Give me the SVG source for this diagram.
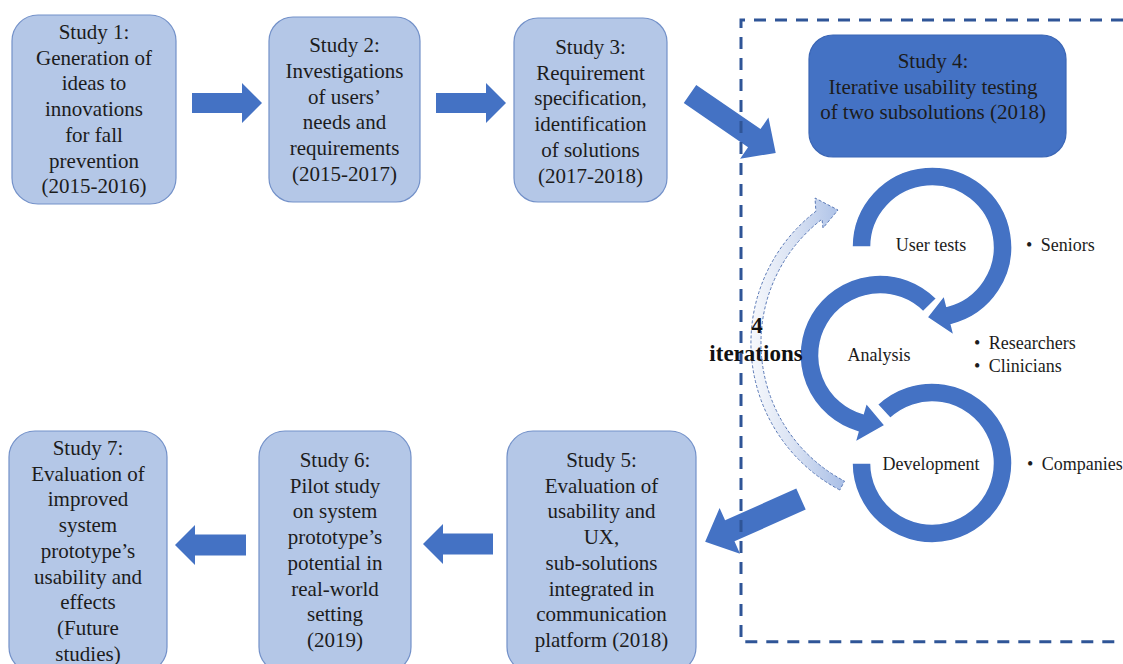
<svg xmlns="http://www.w3.org/2000/svg" width="1123" height="664" viewBox="0 0 1123 664">
<style>
.box{fill:#b4c7e7;stroke:#7391c9;stroke-width:1.2}
.box4{fill:#4472c4;stroke:#3b66b5;stroke-width:1.2}
.t{font-family:"Liberation Serif","Times New Roman",serif;font-size:21px;fill:#1c1c1c;text-anchor:middle}
.lbl{font-family:"Liberation Serif","Times New Roman",serif;font-size:18px;fill:#1c1c1c}
.mid{text-anchor:middle}
.bold{font-family:"Liberation Serif","Times New Roman",serif;font-size:23px;font-weight:bold;fill:#111;text-anchor:middle}
.blk{fill:#4472c4}
.ring{fill:#4472c4;stroke:#ffffff;stroke-width:1.5}
</style>
<defs>
<linearGradient id="gradIter" gradientUnits="userSpaceOnUse" x1="752" y1="0" x2="845" y2="0">
<stop offset="0" stop-color="#f6f8fc"/>
<stop offset="0.45" stop-color="#d9e2f3"/>
<stop offset="1" stop-color="#a8bee6"/>
</linearGradient>
</defs>
<rect width="1123" height="664" fill="#ffffff"/>

<g id="connectors">
<polygon class="blk" points="192,93 242,93 242,83 262,103 242,123 242,113 192,113"/>
<polygon class="blk" points="436,93 486,93 486,83 506,103 486,123 486,113 436,113"/>
<polygon class="blk" transform="translate(690,94) rotate(34.5)" points="0,-11 78,-11 78,-25 104,0 78,25 78,11 0,11"/>
<polygon class="blk" transform="translate(801,499) rotate(155.9)" points="0,-11.5 78,-11.5 78,-25 105,0 78,25 78,11.5 0,11.5"/>
<polygon class="blk" points="493,533.5 443,533.5 443,524 423,544 443,564 443,554.5 493,554.5"/>
<polygon class="blk" points="246,534.5 195,534.5 195,525 175,545 195,565 195,555.5 246,555.5"/>
</g>

<g id="study1">
<rect class="box" x="12" y="15" width="164" height="189" rx="26"/>
<text class="t"><tspan x="94" y="39">Study 1:</tspan><tspan x="94" y="64.7">Generation of</tspan><tspan x="94" y="90.4">ideas to</tspan><tspan x="94" y="116.1">innovations</tspan><tspan x="94" y="141.8">for fall</tspan><tspan x="94" y="167.5">prevention</tspan><tspan x="94" y="193.2">(2015-2016)</tspan></text>
</g>

<g id="study2">
<rect class="box" x="269" y="17" width="151" height="185" rx="24"/>
<text class="t"><tspan x="344.5" y="52">Study 2:</tspan><tspan x="344.5" y="77.8">Investigations</tspan><tspan x="344.5" y="103.6">of users’</tspan><tspan x="344.5" y="129.4">needs and</tspan><tspan x="344.5" y="155.2">requirements</tspan><tspan x="344.5" y="181">(2015-2017)</tspan></text>
</g>

<g id="study3">
<rect class="box" x="514" y="18" width="153" height="184" rx="24"/>
<text class="t"><tspan x="590.5" y="54">Study 3:</tspan><tspan x="590.5" y="79.7">Requirement</tspan><tspan x="590.5" y="105.4">specification,</tspan><tspan x="590.5" y="131.1">identification</tspan><tspan x="590.5" y="156.8">of solutions</tspan><tspan x="590.5" y="182.5">(2017-2018)</tspan></text>
</g>

<g id="study4">
<rect class="box4" x="809" y="35" width="257" height="122" rx="24"/>
<text class="t"><tspan x="933" y="68">Study 4:</tspan><tspan x="933" y="93.5">Iterative usability testing</tspan><tspan x="933" y="119">of two subsolutions (2018)</tspan></text>
</g>

<g id="iterations">
<path d="M839.8,490.0 A166,166 0 0 1 815.9,211.3 L815,198 L838,210 L823,228 L822.0,219.2 A156,156 0 0 0 844.5,481.1 Z" fill="url(#gradIter)" stroke="#5a79b6" stroke-width="1" stroke-dasharray="3,2"/>
</g>

<g id="user-tests">
<path class="ring" d="M852,247 A80,80 0 1 1 951.35,324.62 L954.01,335.30 L927.08,317.33 L944.10,295.52 L946.76,306.19 A61,61 0 1 0 871,247 Z"/>
<text class="lbl mid" x="931" y="251">User tests</text>
</g>

<g id="analysis">
<path class="ring" d="M936.57,298.43 A80,80 0 1 0 857.95,431.90 L854.92,442.47 L884.92,425.33 L866.22,403.06 L863.19,413.64 A61,61 0 1 1 923.13,311.87 Z"/>
<text class="lbl mid" x="879" y="361">Analysis</text>
</g>

<g id="development">
<path class="ring" d="M877.44,404.49 A80,80 0 1 1 852,463 L871,463 A61,61 0 1 0 890.40,418.39 Z"/>
<text class="lbl mid" x="931" y="470">Development</text>
</g>

<g id="stakeholders">
<text class="lbl" x="1026" y="251">•<tspan dx="4"> Seniors</tspan></text>
<text class="lbl" x="974" y="349">•<tspan dx="4"> Researchers</tspan></text>
<text class="lbl" x="974" y="372">•<tspan dx="4"> Clinicians</tspan></text>
<text class="lbl" x="1027" y="470">•<tspan dx="4"> Companies</tspan></text>
</g>

<g id="study5">
<rect class="box" x="507" y="431" width="189" height="242" rx="26"/>
<text class="t"><tspan x="601.5" y="467">Study 5:</tspan><tspan x="601.5" y="492.7">Evaluation of</tspan><tspan x="601.5" y="518.4">usability and</tspan><tspan x="601.5" y="544.1">UX,</tspan><tspan x="601.5" y="569.8">sub-solutions</tspan><tspan x="601.5" y="595.5">integrated in</tspan><tspan x="601.5" y="621.2">communication</tspan><tspan x="601.5" y="646.9">platform (2018)</tspan></text>
</g>

<g id="study6">
<rect class="box" x="259" y="431" width="152" height="242" rx="26"/>
<text class="t"><tspan x="335" y="467">Study 6:</tspan><tspan x="335" y="492.7">Pilot study</tspan><tspan x="335" y="518.4">on system</tspan><tspan x="335" y="544.1">prototype’s</tspan><tspan x="335" y="569.8">potential in</tspan><tspan x="335" y="595.5">real-world</tspan><tspan x="335" y="621.2">setting</tspan><tspan x="335" y="646.9">(2019)</tspan></text>
</g>

<g id="study7">
<rect class="box" x="9" y="431" width="158" height="242" rx="26"/>
<text class="t"><tspan x="88" y="455">Study 7:</tspan><tspan x="88" y="480.7">Evaluation of</tspan><tspan x="88" y="506.4">improved</tspan><tspan x="88" y="532.1">system</tspan><tspan x="88" y="557.8">prototype’s</tspan><tspan x="88" y="583.5">usability and</tspan><tspan x="88" y="609.2">effects</tspan><tspan x="88" y="634.9">(Future</tspan><tspan x="88" y="660.6">studies)</tspan></text>
</g>

<g id="study4-frame">
<path d="M1123,20 H741 V641.7 H1123" fill="none" stroke="#2f5597" stroke-width="3" stroke-dasharray="12,9"/>
</g>

<g id="iterations-label">
<text class="bold"><tspan x="757" y="333">4</tspan><tspan x="756" y="361">iterations</tspan></text>
</g>
</svg>
